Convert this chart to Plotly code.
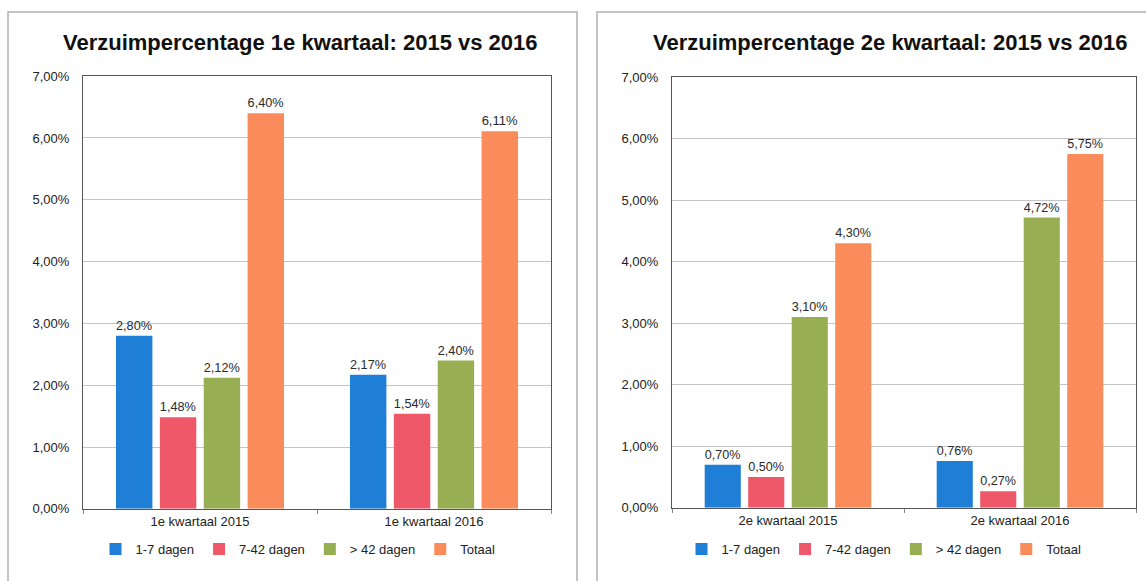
import plotly.graph_objects as go

series = ["1-7 dagen", "7-42 dagen", "> 42 dagen", "Totaal"]
colors = ["#1f7fd6", "#ef5868", "#98ae52", "#fa8b5a"]

cats_q1 = ["1e kwartaal 2015", "1e kwartaal 2016"]
q1_values = {
    "1-7 dagen": [2.80, 2.17],
    "7-42 dagen": [1.48, 1.54],
    "> 42 dagen": [2.12, 2.40],
    "Totaal": [6.40, 6.11],
}
cats_q2 = ["2e kwartaal 2015", "2e kwartaal 2016"]
q2_values = {
    "1-7 dagen": [0.70, 0.76],
    "7-42 dagen": [0.50, 0.27],
    "> 42 dagen": [3.10, 4.72],
    "Totaal": [4.30, 5.75],
}
ytick_vals = [0, 1, 2, 3, 4, 5, 6, 7]
ytick_text = ["0,00%", "1,00%", "2,00%", "3,00%", "4,00%", "5,00%", "6,00%", "7,00%"]

titles = ["Verzuimpercentage 1e kwartaal: 2015 vs 2016",
          "Verzuimpercentage 2e kwartaal: 2015 vs 2016"]

def fmt(v):
    return f"{v:.2f}%".replace(".", ",")

W, H = 1146, 581
FONT = "Liberation Sans, Arial, sans-serif"


def py(y_pix):
    # paper y fraction for a target pixel row (compensates page offset/scale)
    return 1 - ((y_pix - 7) / 0.9725) / H


fig = go.Figure()

for idx, (cats, vals) in enumerate([(cats_q1, q1_values), (cats_q2, q2_values)]):
    xa = "x" if idx == 0 else "x2"
    ya = "y" if idx == 0 else "y2"
    lg = "legend" if idx == 0 else "legend2"
    for s, c in zip(series, colors):
        fig.add_trace(go.Bar(
            x=cats, y=vals[s], name=s, marker_color=c, marker_line_width=0,
            text=[fmt(v) for v in vals[s]], textposition="outside",
            textfont=dict(size=13, color="#2a2a2a"), cliponaxis=False,
            xaxis=xa, yaxis=ya, legend=lg,
        ))


def xaxis(dom, anchor):
    return dict(domain=dom, anchor=anchor, tickfont=dict(size=13, color="#222"),
                showline=True, linecolor="#555", linewidth=1, mirror=True,
                ticks="outside", tickson="boundaries", ticklen=4,
                tickcolor="#888", ticklabelstandoff=1)


def yaxis(dom, anchor):
    return dict(domain=dom, anchor=anchor, range=[0, 7],
                tickvals=ytick_vals, ticktext=ytick_text,
                tickfont=dict(size=13, color="#222"),
                gridcolor="#c4c4c4", ticks="", ticklabelstandoff=10,
                showline=True, linecolor="#555", linewidth=1, mirror=True,
                zeroline=False)


fig.update_layout(
    width=W, height=H,
    margin=dict(l=0, r=0, t=0, b=0),
    paper_bgcolor="white", plot_bgcolor="white",
    font=dict(family=FONT, color="#222"),
    barmode="group", bargap=0.25, bargroupgap=0.17,
    xaxis=xaxis([83 / W, 551 / W], "y"),
    yaxis=yaxis([py(508), py(76)], "x"),
    xaxis2=xaxis([672 / W, 1136 / W], "y2"),
    yaxis2=yaxis([py(507), py(77)], "x2"),
    legend=dict(orientation="h", x=298 / W, xanchor="center", y=py(548),
                yanchor="middle", font=dict(size=13), itemwidth=30,
                traceorder="normal"),
    legend2=dict(orientation="h", x=884 / W, xanchor="center", y=py(548),
                 yanchor="middle", font=dict(size=13), itemwidth=30,
                 traceorder="normal"),
    showlegend=True,
)

fig.add_annotation(text="<b>" + titles[0] + "</b>", x=300 / W, y=py(42),
                   xref="paper", yref="paper", showarrow=False,
                   xanchor="center", yanchor="middle",
                   font=dict(size=22, color="#111", family=FONT))
fig.add_annotation(text="<b>" + titles[1] + "</b>", x=890 / W, y=py(42),
                   xref="paper", yref="paper", showarrow=False,
                   xanchor="center", yanchor="middle",
                   font=dict(size=22, color="#111", family=FONT))

for x0, x1 in [(8, 577), (597, 1160)]:
    fig.add_shape(type="rect", xref="paper", yref="paper",
                  x0=x0 / W, x1=x1 / W, y0=-0.05, y1=py(12),
                  line=dict(color="#b0b0b0", width=1.5), layer="below")

css = "margin:0;padding:0;overflow:hidden;width:1146px;height:581px;"
fig.write_html(
    "out.html",
    config={"displayModeBar": False},
    post_script=("document.documentElement.style.cssText='" + css + "';"
                 "document.body.style.cssText='" + css + "';"),
)
